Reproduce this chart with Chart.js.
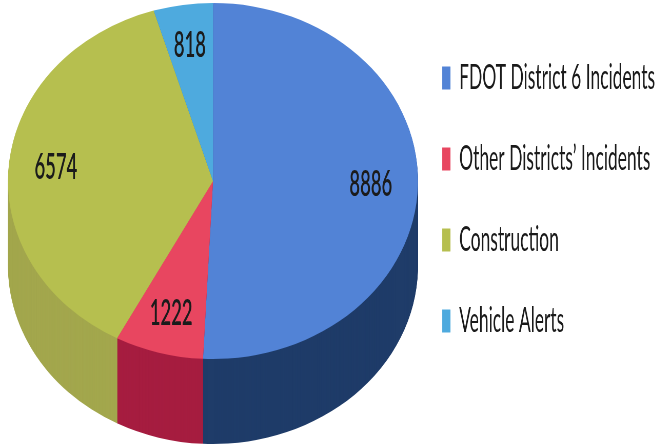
<!DOCTYPE html>
<html>
<head>
<meta charset="utf-8">
<script src="https://cdn.jsdelivr.net/npm/chart.js@4"></script>
<style>
  html, body { margin: 0; padding: 0; background: #fff; overflow: hidden; }
  #wrap { width: 658px; height: 448px; overflow: hidden; position: relative; }
  /* the source picture is squeezed horizontally, so draw wide and squeeze */
  canvas { transform-origin: 0 0; transform: scaleX(0.513); display: block; }
</style>
</head>
<body>
<div id="wrap"><canvas id="pie" width="1283" height="448"></canvas></div>
<script>
const categories = ['FDOT District 6 Incidents', "Other Districts’ Incidents", 'Construction', 'Vehicle Alerts'];
const counts = [8886, 1222, 6574, 818];
const topColors = ['#5283d6', '#e84660', '#b6bf4f', '#4eaade'];
const sideColors = ['#1f3c69', '#a61d40', '#a3a74d', '#2f7fa8'];

const SX = 0.513;         // horizontal squeeze applied by css
const CX = 213 / SX;      // ellipse centre and radii, in unsqueezed canvas px
const CY = 181;
const RX = 205 / SX;
const RY = 178;
const DEPTH = 85;
const LABEL_R = 0.77;

function toEllipse(ctx, arc) {
  ctx.translate(CX, CY);
  ctx.scale(RX / arc.outerRadius, RY / arc.outerRadius);
  ctx.translate(-arc.x, -arc.y);
}

const pie3d = {
  id: 'pie3d',
  beforeDatasetsDraw(chart) {
    const ctx = chart.ctx;
    const arcs = chart.getDatasetMeta(0).data;
    // side wall: the same arcs stacked downwards in darker colours
    for (let d = DEPTH; d >= 1; d--) {
      ctx.save();
      ctx.translate(0, d);
      toEllipse(ctx, arcs[0]);
      arcs.forEach((arc, i) => {
        const bg = arc.options.backgroundColor;
        arc.options.backgroundColor = sideColors[i];
        arc.draw(ctx);
        arc.options.backgroundColor = bg;
      });
      ctx.restore();
    }
    ctx.save();
    toEllipse(ctx, arcs[0]);
  },
  afterDatasetsDraw(chart) {
    const ctx = chart.ctx;
    ctx.restore();
    const arcs = chart.getDatasetMeta(0).data;
    ctx.save();
    ctx.font = '600 36px Lato';
    ctx.fillStyle = '#1b1b1b';
    ctx.textAlign = 'center';
    ctx.textBaseline = 'middle';
    arcs.forEach((arc, i) => {
      const m = (arc.startAngle + arc.endAngle) / 2;
      const x = CX + Math.cos(m) * RX * LABEL_R;
      const y = CY + Math.sin(m) * RY * LABEL_R;
      ctx.fillText(String(counts[i]), x, y);
    });
    ctx.restore();
  }
};

new Chart(document.getElementById('pie'), {
  type: 'pie',
  data: {
    labels: categories,
    datasets: [{
      data: counts,
      backgroundColor: topColors,
      borderWidth: 0,
      clip: false,
    }],
  },
  options: {
    responsive: false,
    animation: false,
    layout: { padding: { top: 14, right: -4, bottom: 0, left: 0 } },
    plugins: {
      tooltip: { enabled: false },
      legend: {
        position: 'right',
        align: 'start',
        labels: {
          font: { family: 'Lato', size: 34 },
          color: '#1a1a1a',
          boxWidth: 16,
          boxHeight: 23,
          padding: 47,
        },
      },
    },
  },
  plugins: [pie3d],
});
</script>
</body>
</html>
